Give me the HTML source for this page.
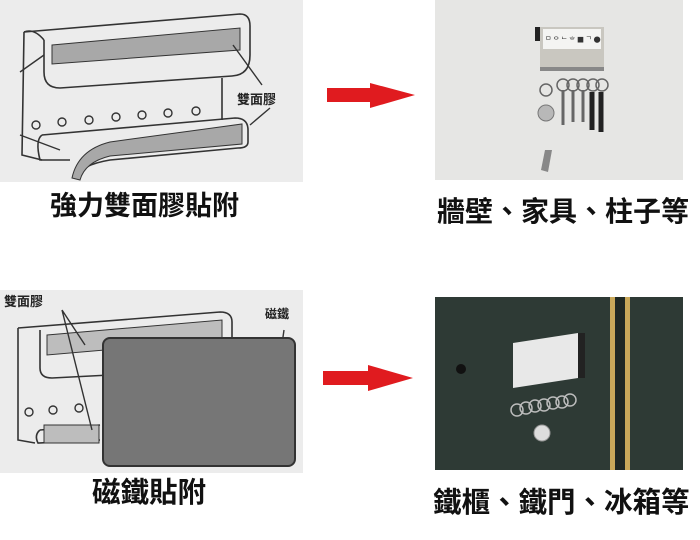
<!DOCTYPE html>
<html><head><meta charset="utf-8"><style>
html,body{margin:0;padding:0;background:#fff;}
body{width:700px;height:540px;overflow:hidden;position:relative;font-family:"Liberation Sans","Noto Sans CJK TC",sans-serif;}
.lbl{position:absolute;font-weight:bold;color:#111;white-space:nowrap;line-height:1;}
svg{position:absolute;left:0;top:0;}
</style></head><body>
<svg width="700" height="540" viewBox="0 0 700 540">
<!-- top-left sketch -->
<rect x="0" y="0" width="303" height="182" fill="#ececec"/>
<g fill="none" stroke="#333" stroke-width="1.6">
<path d="M24 32 L240 14 Q250 14 250 26 L250 55 Q250 75 232 76 L60 88 Q44 88 44 72 L44 40"/>
<path d="M24 32 Q34 28 44 40"/>
<path d="M24 32 L22 155 L42 160"/>
<path d="M222 78 L222 120"/>
<path d="M42 135 L235 118 Q248 118 248 130 L248 142 Q248 148 238 148 L110 160 Q80 165 76 178"/>
<path d="M42 135 Q35 140 40 160 L70 160"/>
</g>
<polygon points="52,45 240,28 240,50 52,64" fill="#a8a8a8" stroke="#333" stroke-width="1"/>
<path d="M72 178 Q78 150 110 142 L242 124 L242 144 L110 156 Q85 162 80 180 Z" fill="#a8a8a8" stroke="#333" stroke-width="1"/>
<g fill="none" stroke="#333" stroke-width="1.4">
<circle cx="36" cy="125" r="4"/><circle cx="62" cy="122" r="4"/><circle cx="89" cy="120" r="4"/><circle cx="116" cy="117" r="4"/><circle cx="142" cy="115" r="4"/><circle cx="168" cy="113" r="4"/><circle cx="196" cy="111" r="4"/>
<path d="M233 45 L262 85 M250 125 L270 108 M20 72 L44 55 M20 135 L60 150"/>
</g>
<text x="237" y="104" font-family="Noto Sans CJK TC,sans-serif" font-weight="bold" font-size="13" fill="#222">雙面膠</text>
<!-- top arrow -->
<polygon points="327,88 370,88 370,83 415,95 370,108 370,102 327,102" fill="#e01b1f"/>
<!-- top-right photo -->
<rect x="435" y="0" width="248" height="180" fill="#e6e6e4"/>
<rect x="535" y="27" width="5" height="14" fill="#222"/>
<rect x="540" y="27" width="64" height="40" fill="#c9c7c0"/>
<rect x="543" y="29" width="58" height="20" fill="#f4f4f2"/>
<g fill="#333" font-size="7" font-family="Noto Sans CJK TC,sans-serif"><text x="545" y="42">ᄆ ᄋ ᄂ ᄒ ■ ᄀ ●</text></g>
<rect x="540" y="67" width="64" height="4" fill="#888"/>
<g fill="none" stroke="#666" stroke-width="1.5">
<circle cx="546" cy="90" r="6"/><circle cx="563" cy="85" r="6"/><circle cx="573" cy="85" r="6"/><circle cx="583" cy="85" r="6"/><circle cx="593" cy="85" r="6"/><circle cx="602" cy="85" r="6"/>
</g>
<circle cx="546" cy="113" r="8" fill="#b8b8b8" stroke="#777"/>
<path d="M545 150 L552 150 L548 172 L541 170 Z" fill="#888"/>
<g stroke="#666" stroke-width="3"><line x1="563" y1="90" x2="563" y2="125"/><line x1="573" y1="90" x2="573" y2="122"/><line x1="583" y1="90" x2="583" y2="122"/></g>
<g stroke="#222" stroke-width="5"><line x1="592" y1="92" x2="592" y2="130"/><line x1="601" y1="92" x2="601" y2="132"/></g>
<!-- bottom-left sketch -->
<rect x="0" y="290" width="303" height="183" fill="#ececec"/>
<g fill="none" stroke="#333" stroke-width="1.6">
<path d="M18 328 L220 312 Q232 312 232 322 L232 345 M18 328 L18 440 L35 443"/>
<path d="M40 330 L40 368 Q40 378 52 378 L110 375"/>
<path d="M40 430 L100 425 M40 430 Q34 435 38 443 L100 440"/>
</g>
<polygon points="47,335 222,320 222,340 47,355" fill="#bdbdbd" stroke="#333" stroke-width="1"/>
<rect x="44" y="425" width="55" height="18" fill="#bdbdbd" stroke="#333" stroke-width="1"/>
<g fill="none" stroke="#333" stroke-width="1.4"><circle cx="29" cy="412" r="4"/><circle cx="53" cy="410" r="4"/><circle cx="79" cy="408" r="4"/>
<path d="M62 310 L92 430 M62 310 L85 345 M284 330 L280 358"/></g>
<rect x="103" y="338" width="192" height="128" rx="7" fill="#767676" stroke="#333" stroke-width="2"/>
<text x="4" y="306" font-family="Noto Sans CJK TC,sans-serif" font-weight="bold" font-size="13" fill="#222">雙面膠</text>
<text x="265" y="318" font-family="Noto Sans CJK TC,sans-serif" font-weight="bold" font-size="12" fill="#222">磁鐵</text>
<!-- bottom arrow -->
<polygon points="323,371 368,371 368,365 413,378 368,391 368,385 323,385" fill="#e01b1f"/>
<!-- bottom-right photo -->
<rect x="435" y="297" width="248" height="173" fill="#2e3a35"/>
<rect x="610" y="297" width="5" height="173" fill="#c9a85a"/>
<rect x="625" y="297" width="5" height="173" fill="#c9a85a"/>
<rect x="615" y="297" width="10" height="173" fill="#1f2824"/>
<circle cx="461" cy="369" r="5" fill="#111"/>
<polygon points="513,343 578,333 578,378 513,388" fill="#e8e8e8"/>
<rect x="578" y="333" width="7" height="45" fill="#222"/>
<g fill="none" stroke="#bbb" stroke-width="1.5">
<circle cx="517" cy="410" r="6"/><circle cx="526" cy="408" r="6"/><circle cx="535" cy="406" r="6"/><circle cx="544" cy="405" r="6"/><circle cx="553" cy="403" r="6"/><circle cx="562" cy="402" r="6"/><circle cx="570" cy="400" r="6"/>
</g>
<circle cx="542" cy="433" r="8" fill="#ddd" stroke="#999"/>
</svg>
<div class="lbl" style="left:50px;top:193px;font-size:27px;">強力雙面膠貼附</div>
<div class="lbl" style="left:437px;top:198px;font-size:28px;">牆壁、家具、柱子等</div>
<div class="lbl" style="left:92px;top:479px;font-size:28.5px;">磁鐵貼附</div>
<div class="lbl" style="left:433px;top:489px;font-size:28.5px;">鐵櫃、鐵門、冰箱等</div>
</body></html>
